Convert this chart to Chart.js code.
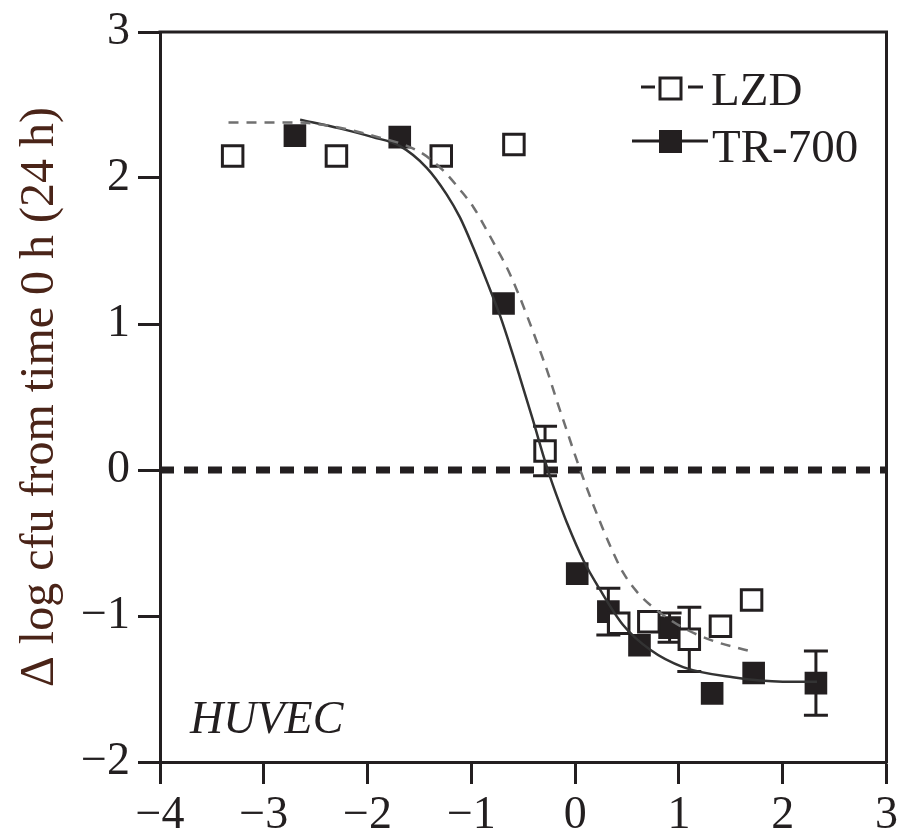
<!DOCTYPE html>
<html>
<head>
<meta charset="utf-8">
<script src="https://cdn.jsdelivr.net/npm/chart.js@4.4.1/dist/chart.umd.min.js"></script>
<style>
  body { margin: 0; background: #fff; }
  canvas { display: block; }
</style>
</head>
<body>
<canvas id="grafico" width="899" height="829"></canvas>
<script>
// datos
const lzdX = [-3.30, -2.30, -1.29, -0.59, -0.29, 0.42, 0.71, 1.10, 1.40, 1.70];
const lzdY = [2.15, 2.15, 2.15, 2.23, 0.13, -1.05, -1.04, -1.16, -1.07, -0.89];
const lzdErr = [0, 0, 0, 0, 0.17, 0, 0, 0.22, 0, 0];

const trX = [-2.70, -1.69, -0.69, 0.02, 0.32, 0.62, 0.91, 1.32, 1.72, 2.32];
const trY = [2.29, 2.28, 1.14, -0.71, -0.97, -1.20, -1.08, -1.53, -1.39, -1.46];
const trErr = [0, 0, 0, 0, 0.16, 0, 0.10, 0, 0, 0.22];

// curvas ajustadas (leidas punto a punto)
const lzdFitX = [-3.34, -2.68, -2.39, -1.95, -1.50, -1.27, -1.11, -0.98, -0.85, -0.75, -0.66, -0.56, -0.46, -0.36, -0.26, -0.17, -0.08, 0.00, 0.08, 0.17, 0.26, 0.35, 0.46, 0.59, 0.75, 1.04, 1.33, 1.68];
const lzdFitY = [2.38, 2.38, 2.36, 2.29, 2.18, 2.05, 1.92, 1.80, 1.64, 1.51, 1.39, 1.23, 1.05, 0.86, 0.66, 0.46, 0.27, 0.10, -0.06, -0.23, -0.39, -0.54, -0.70, -0.83, -0.94, -1.08, -1.17, -1.24];

const trFitX = [-2.65, -2.27, -1.95, -1.69, -1.43, -1.24, -1.11, -0.98, -0.85, -0.72, -0.60, -0.53, -0.41, -0.29, -0.24, -0.16, -0.08, 0.08, 0.24, 0.46, 0.72, 1.04, 1.52, 2.00, 2.33];
const trFitY = [2.40, 2.34, 2.28, 2.22, 2.07, 1.89, 1.73, 1.52, 1.29, 1.05, 0.79, 0.63, 0.35, 0.06, -0.05, -0.21, -0.36, -0.62, -0.82, -1.06, -1.23, -1.35, -1.42, -1.45, -1.45];

const zeroX = [-4, 3];
const zeroY = [0, 0];

const xTicks = [-4, -3, -2, -1, 0, 1, 2, 3];
const yTicks = [-2, -1, 0, 1, 2, 3];

const seriesNames = ['LZD', 'TR-700'];
const yTitle = 'Δ log cfu from time 0 h (24 h)';
const cellLabel = 'HUVEC';

const negro = '#231f20';
const serif = "'Liberation Serif', 'DejaVu Serif', serif";

function puntos(xs, ys) {
    return xs.map((x, i) => ({ x: x, y: ys[i] }));
}

function etiqueta(v) {
    return v < 0 ? '\u2212' + Math.abs(v) : String(v);
}

// barras de error, marco, leyenda y textos
const extras = {
    id: 'extras',
    beforeDatasetsDraw(chart) {
        const ctx = chart.ctx;
        const sx = chart.scales.x, sy = chart.scales.y;
        ctx.save();
        ctx.strokeStyle = negro;
        ctx.lineWidth = 3;
        [[lzdX, lzdY, lzdErr], [trX, trY, trErr]].forEach(([xs, ys, es]) => {
            xs.forEach((x, i) => {
                if (!es[i]) return;
                const px = sx.getPixelForValue(x);
                const p1 = sy.getPixelForValue(ys[i] + es[i]);
                const p2 = sy.getPixelForValue(ys[i] - es[i]);
                ctx.beginPath();
                ctx.moveTo(px, p1); ctx.lineTo(px, p2);
                ctx.moveTo(px - 12, p1); ctx.lineTo(px + 12, p1);
                ctx.moveTo(px - 12, p2); ctx.lineTo(px + 12, p2);
                ctx.stroke();
            });
        });
        ctx.restore();
    },
    afterDraw(chart) {
        const ctx = chart.ctx;
        const a = chart.chartArea;
        ctx.save();
        // marco superior y derecho
        ctx.strokeStyle = negro;
        ctx.lineWidth = 3;
        ctx.beginPath();
        ctx.moveTo(a.left - 1.5, a.top);
        ctx.lineTo(a.right, a.top);
        ctx.lineTo(a.right, a.bottom + 1.5);
        ctx.stroke();

        // titulo eje y
        ctx.fillStyle = '#4a2418';
        ctx.font = '48px ' + serif;
        ctx.textAlign = 'center';
        ctx.textBaseline = 'middle';
        ctx.translate(40, (a.top + a.bottom) / 2);
        ctx.rotate(-Math.PI / 2);
        ctx.fillText(yTitle, 0, 0);
        ctx.setTransform(1, 0, 0, 1, 0, 0);

        // leyenda
        ctx.font = '47px ' + serif;
        ctx.textAlign = 'left';
        ctx.textBaseline = 'alphabetic';
        ctx.fillStyle = negro;
        ctx.strokeStyle = negro;
        ctx.lineWidth = 3;
        ctx.beginPath();
        ctx.moveTo(641, 87); ctx.lineTo(655, 87);
        ctx.moveTo(688, 87); ctx.lineTo(703, 87);
        ctx.stroke();
        ctx.fillStyle = '#fff';
        ctx.fillRect(660, 78, 21, 21);
        ctx.strokeRect(660, 78, 21, 21);
        ctx.fillStyle = negro;
        ctx.fillText(seriesNames[0], 711, 105);

        ctx.beginPath();
        ctx.moveTo(632, 141); ctx.lineTo(708, 141);
        ctx.stroke();
        ctx.fillRect(659, 130, 23, 23);
        ctx.fillText(seriesNames[1], 712, 162);

        // etiqueta celular
        ctx.font = 'italic 46px ' + serif;
        ctx.fillText(cellLabel, 190, 733);
        ctx.restore();
    }
};

const grafico = document.getElementById('grafico').getContext('2d');
new Chart(grafico, {
    type: 'scatter',
    data: {
        datasets: [{
            label: seriesNames[0],
            data: puntos(lzdX, lzdY),
            pointStyle: 'rect',
            pointRadius: 14.5,
            pointBorderWidth: 3,
            pointBorderColor: negro,
            pointBackgroundColor: '#fff',
            showLine: false,
            order: 1
        }, {
            label: seriesNames[1],
            data: puntos(trX, trY),
            pointStyle: 'rect',
            pointRadius: 16,
            pointBorderWidth: 0,
            pointBackgroundColor: negro,
            showLine: false,
            order: 2
        }, {
            label: 'ajuste LZD',
            data: puntos(lzdFitX, lzdFitY),
            showLine: true,
            pointRadius: 0,
            borderColor: '#707070',
            borderWidth: 2.5,
            borderDash: [10, 8],
            cubicInterpolationMode: 'monotone',
            order: 0
        }, {
            label: 'ajuste TR-700',
            data: puntos(trFitX, trFitY),
            showLine: true,
            pointRadius: 0,
            borderColor: '#333',
            borderWidth: 2.5,
            cubicInterpolationMode: 'monotone',
            order: 0
        }, {
            label: 'cero',
            data: puntos(zeroX, zeroY),
            showLine: true,
            pointRadius: 0,
            borderColor: negro,
            borderWidth: 7,
            borderDash: [14, 10],
            order: 5
        }]
    },
    options: {
        responsive: false,
        devicePixelRatio: 1,
        animation: false,
        layout: { autoPadding: false, padding: { top: 32, right: 12.5, left: 0, bottom: 0 } },
        plugins: {
            legend: { display: false },
            tooltip: { enabled: false }
        },
        scales: {
            x: {
                type: 'linear',
                min: -4,
                max: 3,
                afterBuildTicks: (s) => { s.ticks = xTicks.map(v => ({ value: v })); },
                afterFit: (s) => { s.height = 67; s.paddingLeft = 0; s.paddingRight = 0; },
                ticks: {
                    callback: etiqueta,
                    font: { family: serif, size: 46 },
                    color: negro,
                    padding: 4,
                    maxRotation: 0
                },
                grid: {
                    drawOnChartArea: false,
                    tickLength: 22,
                    tickWidth: 3,
                    tickColor: negro
                },
                border: { display: true, width: 3, color: negro }
            },
            y: {
                type: 'linear',
                min: -2,
                max: 3,
                afterBuildTicks: (s) => { s.ticks = yTicks.map(v => ({ value: v })); },
                afterFit: (s) => { s.width = 160; s.paddingTop = 0; s.paddingBottom = 0; },
                ticks: {
                    callback: etiqueta,
                    font: { family: serif, size: 46 },
                    color: negro,
                    padding: 8
                },
                grid: {
                    drawOnChartArea: false,
                    tickLength: 22,
                    tickWidth: 3,
                    tickColor: negro
                },
                border: { display: true, width: 3, color: negro }
            }
        }
    },
    plugins: [extras]
});
</script>
</body>
</html>
